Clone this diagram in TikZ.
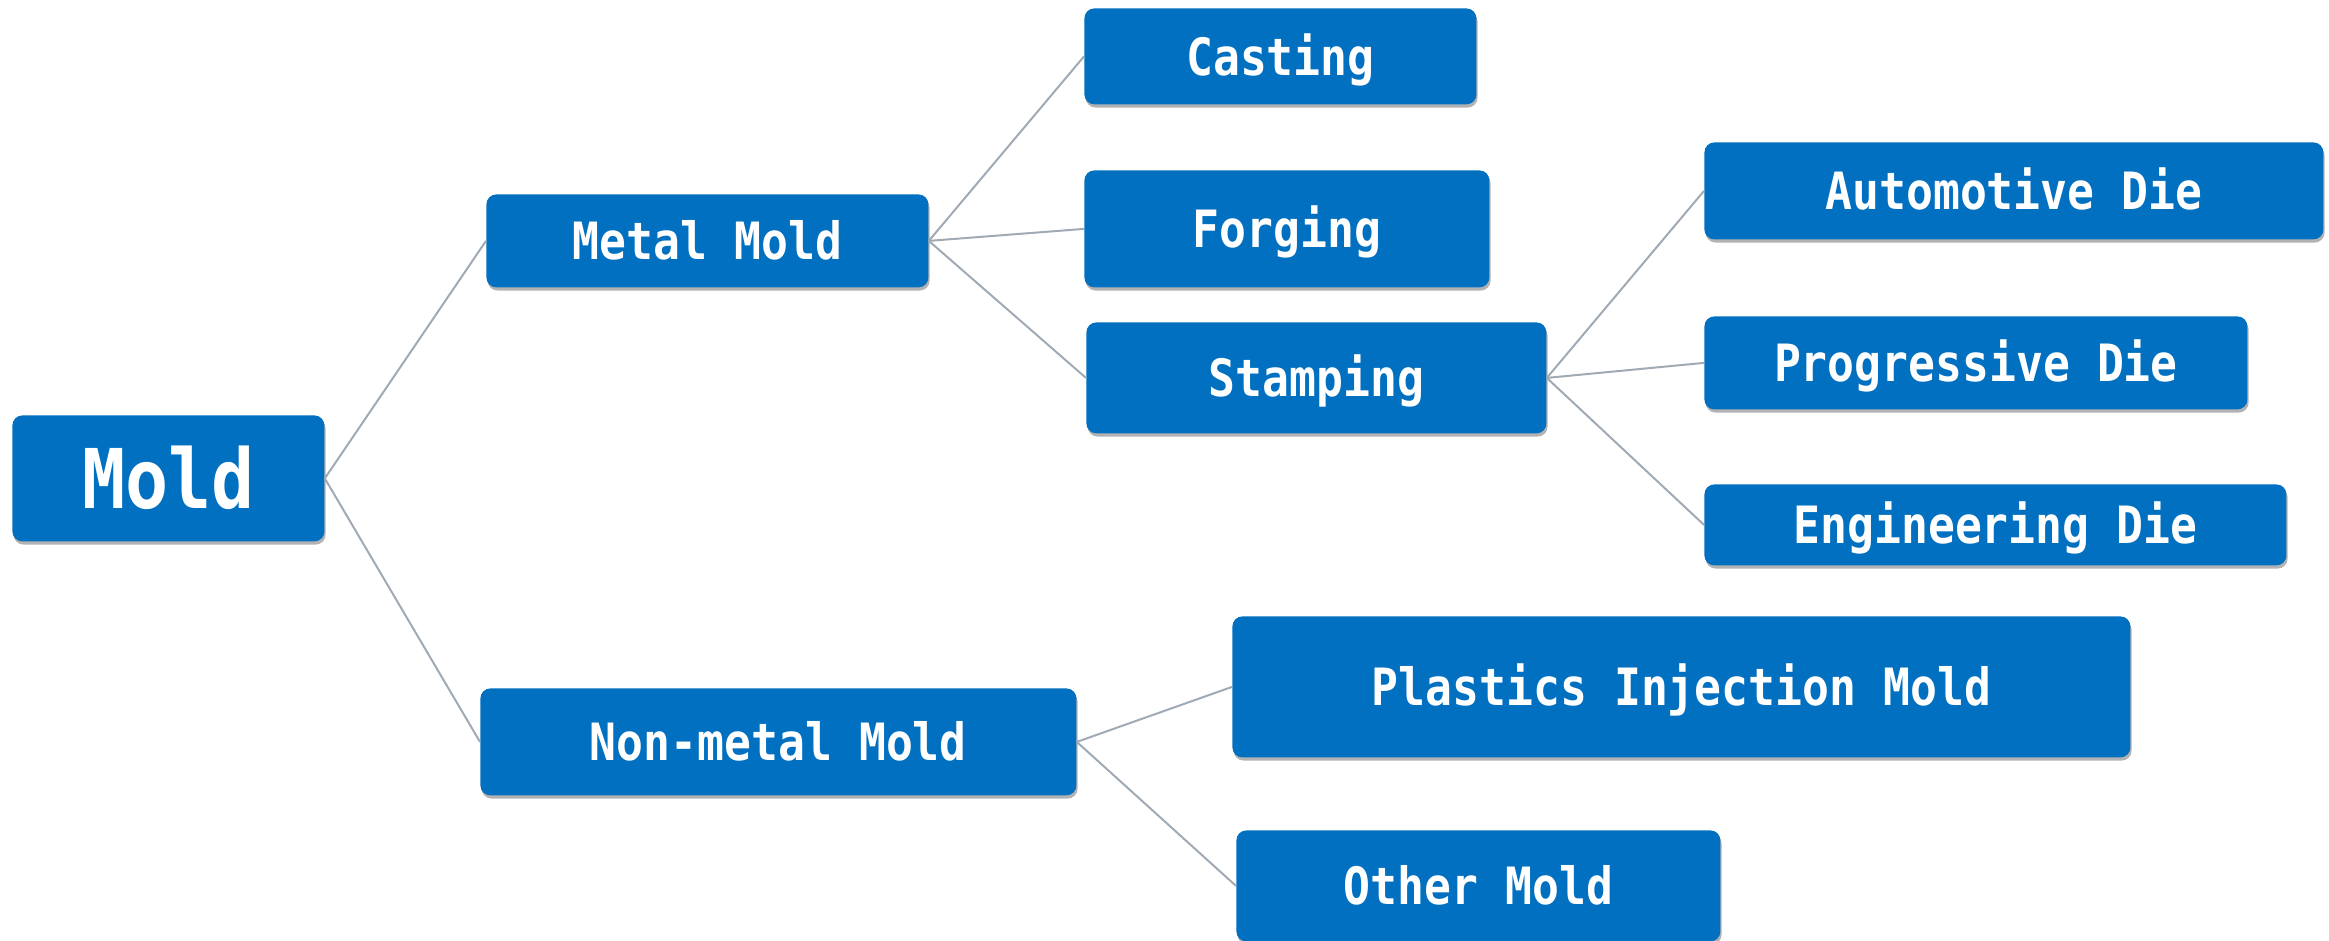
\documentclass[tikz,border=0pt]{standalone}
\usepackage{fontspec}
\usetikzlibrary{shadows}
\newfontfamily\boxfont{DejaVu Sans Mono}[FakeStretch=0.87]
\definecolor{boxblue}{RGB}{2,112,192}
\definecolor{linegray}{RGB}{160,170,181}
\tikzset{
  box/.style={draw=none, fill=boxblue, rounded corners=5pt, inner sep=0pt,
    anchor=north west, text=white, align=center,
    font=\boxfont\bfseries\fontsize{25.7}{30}\selectfont,
    text height=18.7pt, text depth=0pt,
    drop shadow={shadow xshift=0.6pt, shadow yshift=-1.6pt, opacity=0.3, fill=black}},
  bigbox/.style={box, font=\boxfont\bfseries\fontsize{41.2}{48}\selectfont, text height=30pt},
  conn/.style={draw=linegray, line width=1pt}
}
\begin{document}
\begin{tikzpicture}[x=0.5pt, y=-0.5pt]
\useasboundingbox (0,0) rectangle (2329,941);
\node[bigbox, minimum width=156pt, minimum height=63pt] (mold) at (12,415) {Mold};
\node[box, minimum width=221pt, minimum height=46.5pt] (metal) at (486,194) {Metal Mold};
\node[box, minimum width=298pt, minimum height=53.5pt] (nonmetal) at (480,688) {Non-metal Mold};
\node[box, minimum width=196pt, minimum height=48pt] (casting) at (1084,8) {Casting};
\node[box, minimum width=202.5pt, minimum height=58.5pt] (forging) at (1084,170) {Forging};
\node[box, minimum width=230pt, minimum height=55.5pt] (stamping) at (1086,322) {Stamping};
\node[box, minimum width=309.5pt, minimum height=48.5pt] (auto) at (1704,142) {Automotive Die};
\node[box, minimum width=271.5pt, minimum height=46.5pt] (prog) at (1704,316) {Progressive Die};
\node[box, minimum width=291pt, minimum height=40.5pt] (eng) at (1704,484) {Engineering Die};
\node[box, minimum width=449pt, minimum height=70.5pt] (plastic) at (1232,616) {Plastics Injection Mold};
\node[box, minimum width=242pt, minimum height=55.5pt] (other) at (1236,830) {Other Mold};
\draw[conn] (mold.east) -- (metal.west);
\draw[conn] (mold.east) -- (nonmetal.west);
\draw[conn] (metal.east) -- (casting.west);
\draw[conn] (metal.east) -- (forging.west);
\draw[conn] (metal.east) -- (stamping.west);
\draw[conn] (stamping.east) -- (auto.west);
\draw[conn] (stamping.east) -- (prog.west);
\draw[conn] (stamping.east) -- (eng.west);
\draw[conn] (nonmetal.east) -- (plastic.west);
\draw[conn] (nonmetal.east) -- (other.west);
\end{tikzpicture}
\end{document}
